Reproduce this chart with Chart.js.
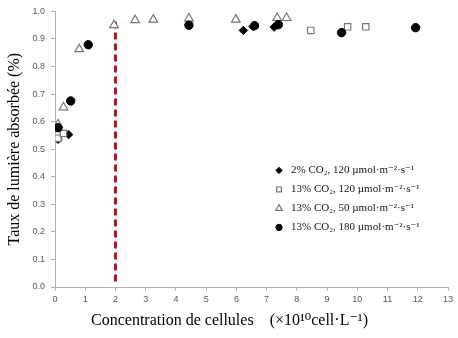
<!DOCTYPE html>
<html>
<head>
<meta charset="utf-8">
<script src="https://cdn.jsdelivr.net/npm/chart.js@4"></script>
<style>
  html,body{margin:0;padding:0;background:#fff;}
  #wrap{width:458px;height:338px;}
</style>
</head>
<body>
<div id="wrap"><canvas id="c" width="458" height="338"></canvas></div>
<script>
// ---- data ----
const seriesNames = [
  '2% CO\u2082, 120 \u00b5mol\u00b7m\u207b\u00b2\u00b7s\u207b\u00b9',
  '13% CO\u2082, 120 \u00b5mol\u00b7m\u207b\u00b2\u00b7s\u207b\u00b9',
  '13% CO\u2082, 50 \u00b5mol\u00b7m\u207b\u00b2\u00b7s\u207b\u00b9',
  '13% CO\u2082, 180 \u00b5mol\u00b7m\u207b\u00b2\u00b7s\u207b\u00b9'
];
const co2_2_120_x  = [0.10, 0.45, 6.23, 6.55, 7.25];
const co2_2_120_y  = [0.536, 0.553, 0.931, 0.945, 0.943];
const co2_13_120_x = [0.10, 0.28, 8.46, 9.68, 10.28];
const co2_13_120_y = [0.540, 0.557, 0.931, 0.944, 0.944];
const co2_13_50_x  = [0.10, 0.28, 0.80, 1.95, 2.65, 3.25, 4.43, 5.98, 7.35, 7.66];
const co2_13_50_y  = [0.590, 0.652, 0.863, 0.950, 0.968, 0.970, 0.974, 0.970, 0.976, 0.976];
const co2_13_180_x = [0.10, 0.52, 1.10, 4.43, 6.60, 7.39, 9.48, 11.93];
const co2_13_180_y = [0.578, 0.675, 0.879, 0.950, 0.948, 0.952, 0.923, 0.941];
const thresholdX = [2, 2];
const thresholdY = [0.02, 0.97];
const xTicks = [0,1,2,3,4,5,6,7,8,9,10,11,12,13];
const yTicks = [0.0,0.1,0.2,0.3,0.4,0.5,0.6,0.7,0.8,0.9,1.0];
const xTitle = 'Concentration de cellules\u00a0\u00a0\u00a0\u00a0(\u00d710\u00b9\u2070cell\u00b7L\u207b\u00b9)';
const yTitle = 'Taux de lumi\u00e8re absorb\u00e9e (%)';

const pts = (xs, ys) => xs.map((x, i) => ({x, y: ys[i]}));

const styles = [
  {pointStyle:'rectRot',  radius:4.2, bg:'#000', border:'#000', bw:1},
  {pointStyle:'rect',     radius:4.5, bg:'#fff', border:'#777', bw:1.2},
  {pointStyle:'triangle', radius:5,   bg:'#fff', border:'#777', bw:1.2},
  {pointStyle:'circle',   radius:4.2, bg:'#000', border:'#000', bw:1}
];
const seriesData = [
  pts(co2_2_120_x, co2_2_120_y),
  pts(co2_13_120_x, co2_13_120_y),
  pts(co2_13_50_x, co2_13_50_y),
  pts(co2_13_180_x, co2_13_180_y)
];

const datasets = [{
  type:'line', label:'threshold', data: pts(thresholdX, thresholdY),
  borderColor:'#b3141c', borderWidth:3, borderDash:[7,4], pointRadius:0, fill:false, order:5
}];
seriesData.forEach((d, i) => {
  const s = styles[i];
  datasets.push({
    type:'scatter', label: seriesNames[i], data: d,
    pointStyle: s.pointStyle, pointRadius: s.radius, pointHoverRadius: s.radius,
    backgroundColor: s.bg, borderColor: s.border, pointBorderWidth: s.bw, borderWidth: s.bw,
    order: 4 - i
  });
});

const legendPlugin = {
  id:'inlineLegend',
  afterDatasetsDraw(chart){
    const ctx = chart.ctx, a = chart.chartArea;
    const mx = a.left + 224, tx = a.left + 236, y0 = a.top + 159, dy = 19;
    ctx.save();
    seriesNames.forEach((name, i) => {
      const s = styles[i];
      const y = y0 + i*dy;
      ctx.fillStyle = s.bg; ctx.strokeStyle = s.border; ctx.lineWidth = s.bw;
      Chart.helpers.drawPoint(ctx, {pointStyle:s.pointStyle, radius: s.radius*0.75, borderWidth:s.bw, rotation:0}, mx, y);
      ctx.fillStyle = '#111';
      ctx.font = '11px "Liberation Serif", "DejaVu Serif", serif';
      ctx.textBaseline = 'middle'; ctx.textAlign = 'left';
      ctx.fillText(name, tx, y);
    });
    ctx.restore();
  }
};

new Chart(document.getElementById('c'), {
  data: { datasets },
  options: {
    responsive:false, animation:false, devicePixelRatio:1,
    layout:{ padding:{ left:0, right:10, top:7, bottom:0 } },
    plugins:{ legend:{display:false}, tooltip:{enabled:false} },
    scales:{
      x:{
        type:'linear', min:0, max:13,
        afterBuildTicks(scale){ scale.ticks = xTicks.map(v => ({value:v})); },
        afterFit(scale){ scale.height = 51; },
        ticks:{ color:'#595959', font:{family:'"Liberation Sans", Arial, sans-serif', size:9}, padding:3,
                callback:(v) => String(v) },
        grid:{ drawOnChartArea:false, drawTicks:true, tickLength:4, color:'#b0b0b0' },
        border:{ display:true, color:'#b0b0b0', width:1 },
        title:{ display:true, text: xTitle + '\u00a0'.repeat(11), color:'#000',
                font:{family:'"Liberation Serif", "DejaVu Serif", serif', size:16}, padding:{top:0,bottom:8} }
      },
      y:{
        type:'linear', min:0, max:1,
        afterBuildTicks(scale){ scale.ticks = yTicks.map(v => ({value:v})); },
        afterFit(scale){ scale.width = 55; },
        ticks:{ color:'#595959', font:{family:'"Liberation Sans", Arial, sans-serif', size:9}, padding:6,
                callback:(v) => Number(v).toFixed(1) },
        grid:{ drawOnChartArea:false, drawTicks:true, tickLength:4, color:'#b0b0b0' },
        border:{ display:true, color:'#b0b0b0', width:1 },
        title:{ display:true, text: yTitle, color:'#000',
                font:{family:'"Liberation Serif", "DejaVu Serif", serif', size:16}, padding:{top:5,bottom:0} }
      }
    }
  },
  plugins:[legendPlugin]
});
</script>
</body>
</html>
